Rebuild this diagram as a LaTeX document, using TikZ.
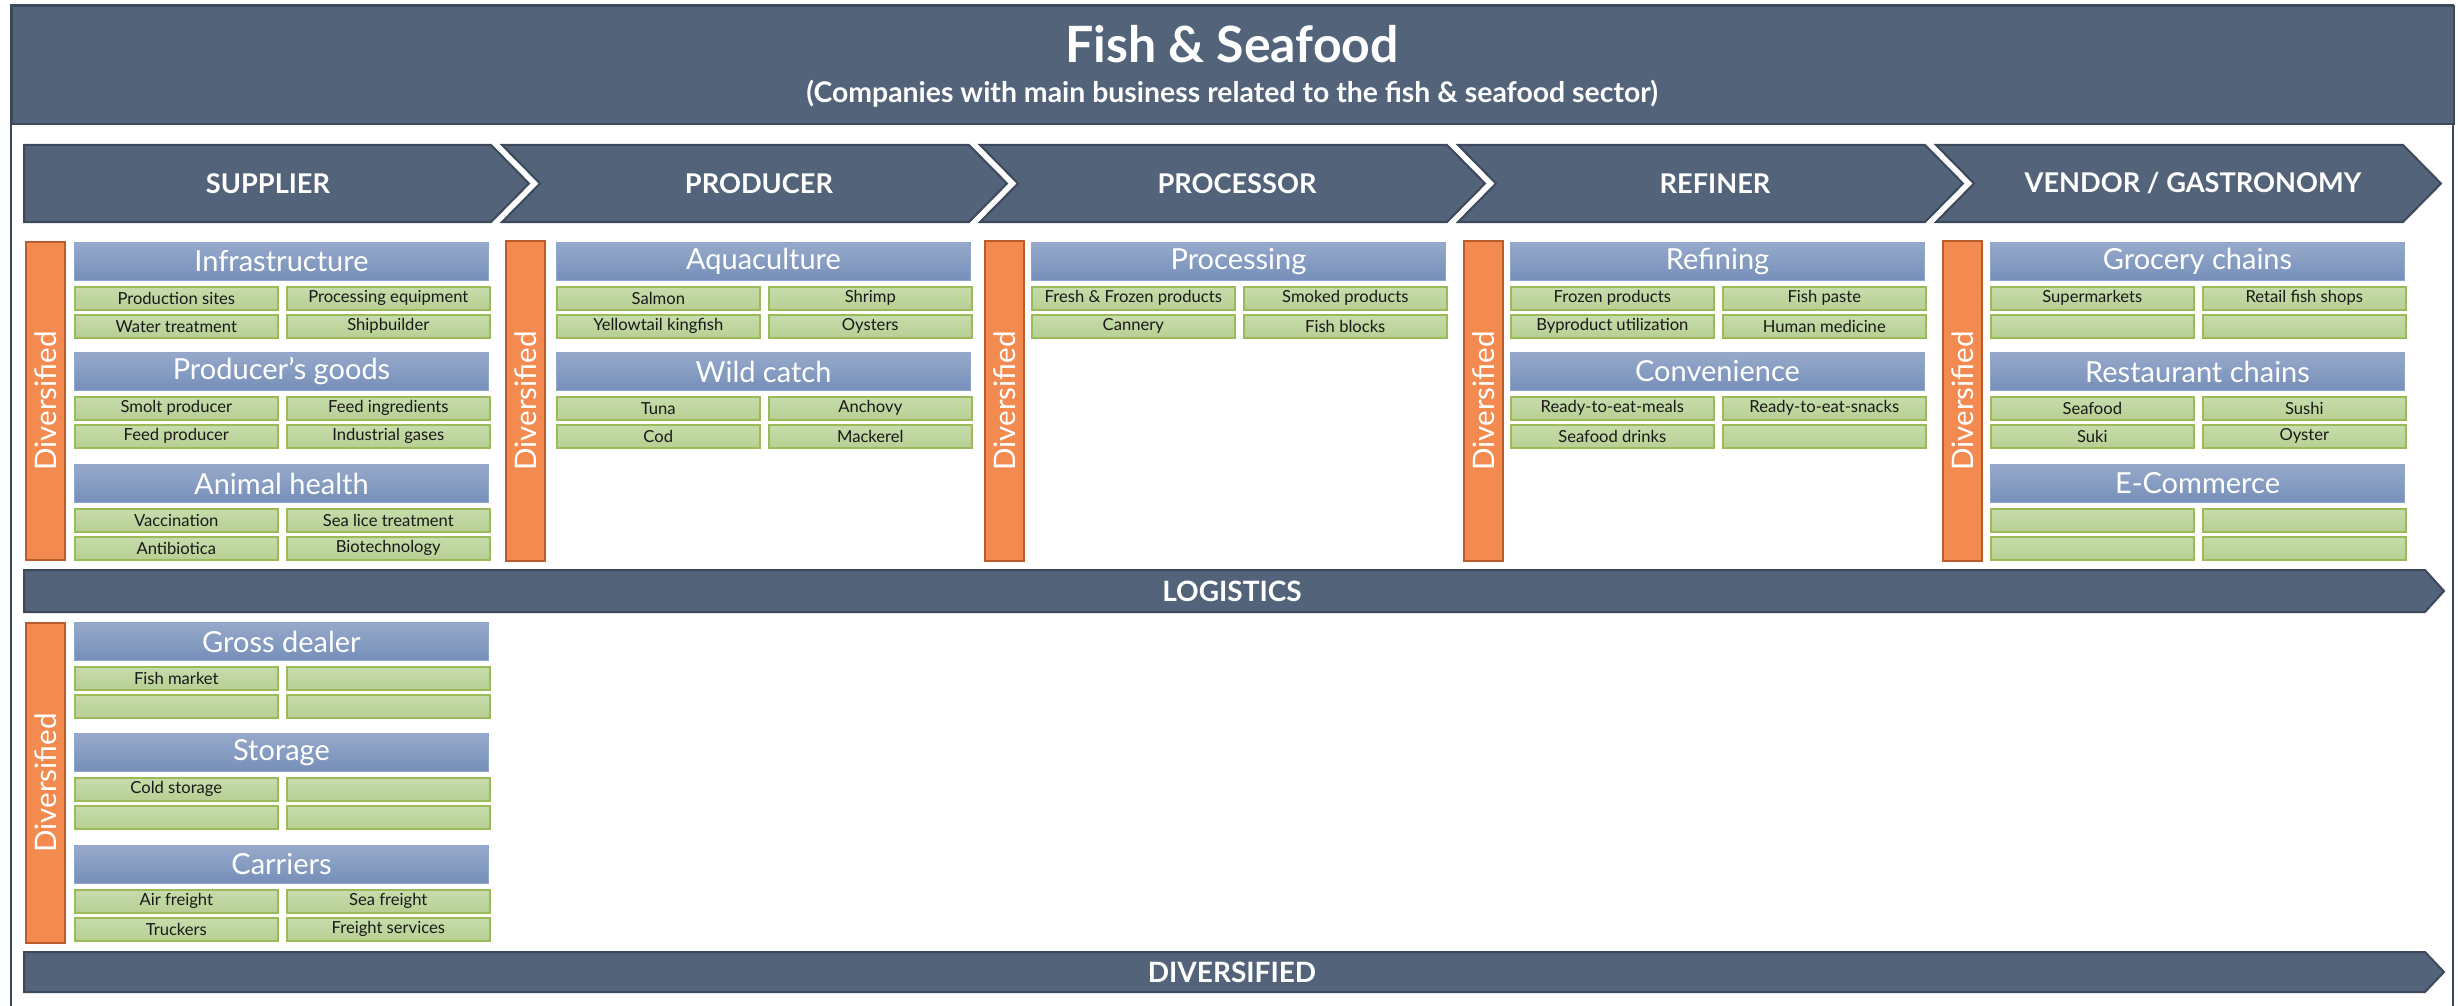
\documentclass[tikz,border=0pt]{standalone}
\usepackage{fontspec}
\setmainfont{Lato}
\definecolor{slate}{RGB}{82,99,122}
\definecolor{slatedark}{RGB}{60,73,90}
\definecolor{bluetop}{RGB}{150,169,202}
\definecolor{bluebot}{RGB}{118,143,185}
\definecolor{blueedge}{RGB}{143,165,204}
\definecolor{greentop}{RGB}{199,220,172}
\definecolor{greenbot}{RGB}{183,207,147}
\definecolor{greenedge}{RGB}{155,187,89}
\definecolor{orangefill}{RGB}{243,138,80}
\definecolor{orangeedge}{RGB}{185,93,43}
\tikzset{
  slatebox/.style={fill=slate, draw=slatedark, line width=1pt},
  chevtext/.style={text=white, font=\bfseries\fontsize{13.6}{16}\selectfont},
  bartext/.style={text=white, font=\bfseries\fontsize{14}{16}\selectfont},
  catbox/.style={draw=blueedge, line width=0.5pt, top color=bluetop, bottom color=bluebot,
    minimum width=207pt, minimum height=19pt, inner sep=0pt, anchor=north west,
    text=white, font=\fontsize{14.5}{16}\selectfont},
  itembox/.style={draw=greenedge, line width=0.8pt, top color=greentop, bottom color=greenbot,
    minimum width=101.5pt, minimum height=11.5pt, inner sep=0pt, anchor=north west,
    text=black!90, font=\fontsize{8.3}{9}\selectfont},
  divbar/.style={draw=orangeedge, line width=1pt, fill=orangefill, minimum width=19.5pt,
    inner sep=0pt, anchor=north west},
  divtext/.style={rotate=90, text=white, font=\fontsize{14.8}{16}\selectfont},
}
\newcommand{\grp}[8]{%
  \node[catbox] (#1h) at (#2,#3) {#4};
  \node[itembox] (#1a) at (#2,#3+44) {#5};
  \node[itembox] (#1b) at (#2+212,#3+44) {#6};
  \node[itembox] (#1c) at (#2,#3+72) {#7};
  \node[itembox] (#1d) at (#2+212,#3+72) {#8};
}
\newcommand{\divcol}[4]{%
  \node[divbar, minimum height=#4] (#1) at (#2,#3) {};
  \node[divtext] (#1t) at (#1.center) {Diversified};
}
\begin{document}
\begin{tikzpicture}[x=0.5pt, y=-0.5pt]
\useasboundingbox (0,0) rectangle (2458,1006);
\fill[white] (0,0) rectangle (2458,1006);
% frame and header
\draw[slatedark, line width=1pt] (11,5) rectangle (2453,1012);
\node[slatebox, anchor=north west, minimum width=1221pt, minimum height=59pt, inner sep=0pt] (header) at (11,5) {};
\node[text=white, font=\bfseries\fontsize{25}{30}\selectfont] (title) at (1232,44) {Fish \& Seafood};
\node[text=white, font=\bfseries\fontsize{14.2}{17}\selectfont] (subtitle) at (1232,94) {(Companies with main business related to the fish \& seafood sector)};
% chevrons
\draw[slatebox] (24,145) -- (491,145) -- (529,183.5) -- (491,222) -- (24,222) -- cycle;
\node[chevtext] (c1) at (268,183.5) {SUPPLIER};
\foreach \i/\lab/\nm in {1/{PRODUCER}/c2, 2/{PROCESSOR}/c3, 3/{REFINER}/c4, 4/{VENDOR / GASTRONOMY}/c5}{
  \pgfmathsetmacro{\xo}{24+478*\i}
  \draw[slatebox] (\xo,145) -- (\xo+467,145) -- (\xo+505,183.5) -- (\xo+467,222) -- (\xo,222) -- (\xo+38,183.5) -- cycle;
  \node[chevtext] (\nm) at (\xo+257,183.5) {\lab};
}
% upper columns
\divcol{dv1}{25}{241}{159pt}
\grp{inf}{74}{242}{Infrastructure}{Production sites}{Processing equipment}{Water treatment}{Shipbuilder}
\grp{pg}{74}{352}{Producer’s goods}{Smolt producer}{Feed ingredients}{Feed producer}{Industrial gases}
\grp{ah}{74}{464}{Animal health}{Vaccination}{Sea lice treatment}{Antibiotica}{Biotechnology}

\divcol{dv2}{505}{240}{160pt}
\grp{aq}{556}{242}{Aquaculture}{Salmon}{Shrimp}{Yellowtail kingfish}{Oysters}
\grp{wc}{556}{352}{Wild catch}{Tuna}{Anchovy}{Cod}{Mackerel}

\divcol{dv3}{984}{240}{160pt}
\grp{pr}{1031}{242}{Processing}{Fresh \& Frozen products}{Smoked products}{Cannery}{Fish blocks}

\divcol{dv4}{1463}{240}{160pt}
\grp{rf}{1510}{242}{Refining}{Frozen products}{Fish paste}{Byproduct utilization}{Human medicine}
\grp{cv}{1510}{352}{Convenience}{Ready-to-eat-meals}{Ready-to-eat-snacks}{Seafood drinks}{}

\divcol{dv5}{1942}{240}{160pt}
\grp{gc}{1990}{242}{Grocery chains}{Supermarkets}{Retail fish shops}{}{}
\grp{rc}{1990}{352}{Restaurant chains}{Seafood}{Sushi}{Suki}{Oyster}
\grp{ec}{1990}{464}{E-Commerce}{}{}{}{}
% logistics bar
\draw[slatebox] (24,570) -- (2425,570) -- (2444,591) -- (2425,612) -- (24,612) -- cycle;
\node[bartext] (logi) at (1232,591) {LOGISTICS};
% lower section
\divcol{dv6}{25}{622}{160pt}
\grp{gd}{74}{622}{Gross dealer}{Fish market}{}{}{}
\grp{st}{74}{733}{Storage}{Cold storage}{}{}{}
\grp{ca}{74}{845}{Carriers}{Air freight}{Sea freight}{Truckers}{Freight services}
% diversified bar
\draw[slatebox] (24,952) -- (2425,952) -- (2444,972) -- (2425,992) -- (24,992) -- cycle;
\node[bartext] (divr) at (1232,972) {DIVERSIFIED};
\end{tikzpicture}
\end{document}
